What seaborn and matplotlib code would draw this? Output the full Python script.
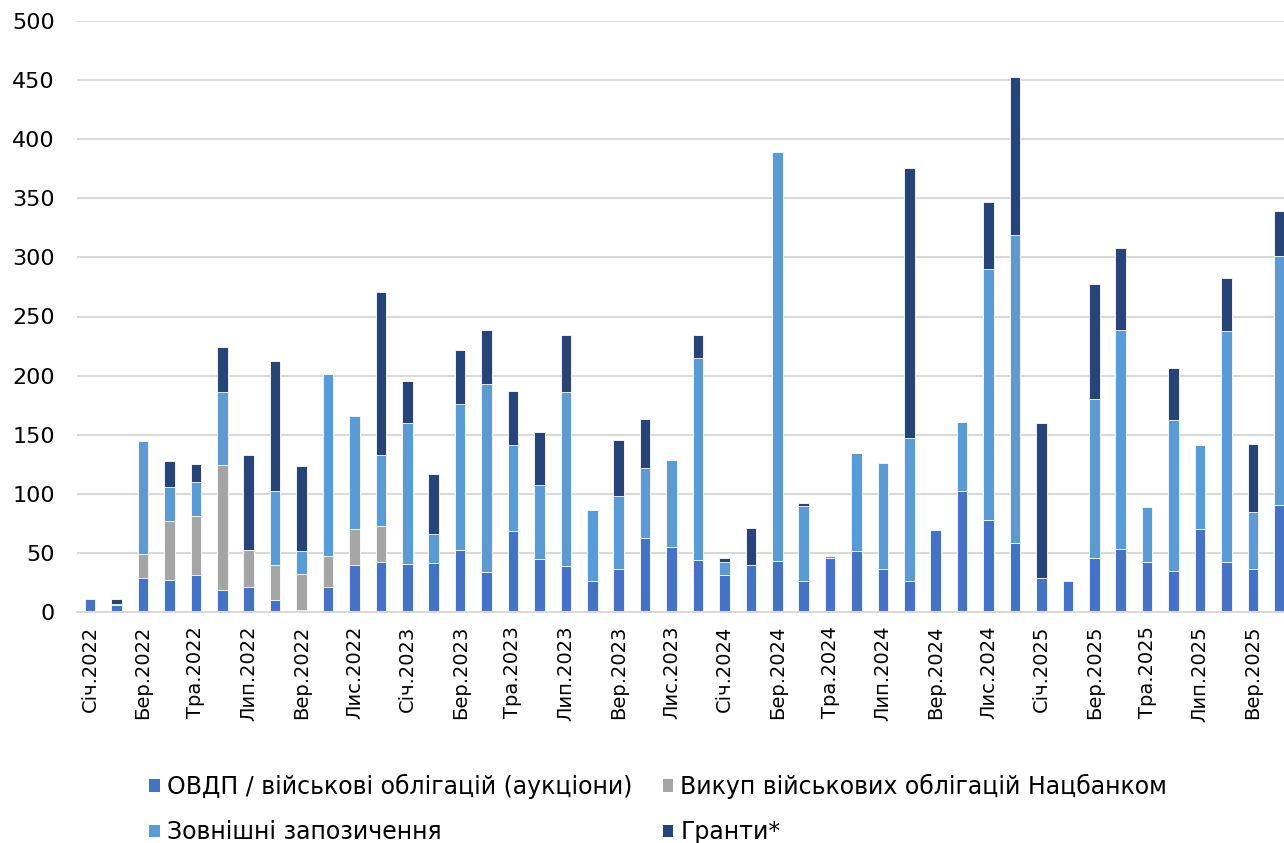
import numpy as np
import pandas as pd
import matplotlib
matplotlib.use("Agg")
import matplotlib.pyplot as plt
from matplotlib.patches import Patch
import seaborn as sns

# Monthly categories, Jan 2022 .. Oct 2025
month_names = ["Січ", "Лют", "Бер", "Кві", "Тра", "Чер",
               "Лип", "Сер", "Вер", "Жов", "Лис", "Гру"]
years = [2022, 2023, 2024, 2025]
categories = [f"{m}.{y}" for y in years for m in month_names][:46]

# Financing sources, bn UAH per month
ovdp = [11, 5.5, 29, 27, 31, 18.5, 21.5, 10, 2, 21.5, 40, 42.5,
        40.5, 41.5, 52.5, 33.5, 68.5, 45, 38.5, 26, 36, 63, 55, 44,
        31, 39.5, 43.5, 26, 45.5, 52, 36, 26.5, 69.5, 102.5, 78, 58,
        29, 26, 46, 53, 42, 35, 70, 42.5, 36.5, 90.5]
nbu_buyback = [0, 0, 20, 50, 50.5, 105.5, 31, 30, 30, 25.5, 30, 30,
               0, 0, 0, 0, 0, 0, 0, 0, 0, 0, 0, 0,
               0, 0, 0, 0, 0, 0, 0, 0, 0, 0, 0, 0,
               0, 0, 0, 0, 0, 0, 0, 0, 0, 0]
external = [0, 1.5, 96, 29, 28.5, 62, 0, 62.5, 19.5, 154.5, 96, 60,
            119, 24.5, 123.5, 159.5, 73, 62.5, 148, 60.5, 62, 58.5, 74, 170.5,
            11.5, 0, 345.5, 63.5, 1.5, 82.5, 90, 121, 0, 58, 212, 261,
            0, 0, 134, 186, 47, 127.5, 71, 195.5, 48, 210.5]
grants = [0, 4, 0, 22, 15.5, 38.5, 80.5, 109.5, 72, 0, 0, 138,
          36, 51, 46, 45.5, 45.5, 44.5, 47.5, 0, 47.5, 42, 0, 20,
          3.5, 31.5, 0, 2.5, 0, 0, 0, 228, 0, 0, 56.5, 134,
          131, 0, 97.5, 69, 0, 44, 0, 44.5, 57.5, 38.5]

series_names = ["ОВДП / військові облігацій (аукціони)",
                "Викуп військових облігацій Нацбанком",
                "Зовнішні запозичення",
                "Гранти*"]
colors = ["#4472C4", "#A5A5A5", "#5B9BD5", "#264478"]

df = pd.DataFrame({"month": categories, "s0": ovdp, "s1": nbu_buyback,
                   "s2": external, "s3": grants})
# cumulative tops for the stacked layers
df["c0"] = df["s0"]
df["c1"] = df["c0"] + df["s1"]
df["c2"] = df["c1"] + df["s2"]
df["c3"] = df["c2"] + df["s3"]

sns.set_theme(style="white")
plt.rcParams["font.family"] = ["DejaVu Sans"]
plt.rcParams["text.color"] = "black"

fig = plt.figure(figsize=(12.84, 8.43), dpi=100)
ax = fig.add_axes([77 / 1284, 1 - 612 / 843, (1292.5 - 77) / 1284, (612 - 21) / 843])

# draw from the tallest cumulative layer down so each segment shows its own colour
for i in [3, 2, 1, 0]:
    sns.barplot(data=df, x="month", y=f"c{i}", order=categories, color=colors[i],
                width=0.4, edgecolor="white", linewidth=0.6, saturation=1,
                ax=ax, zorder=3)

ax.set_ylim(0, 500)
ax.set_xlim(-0.5, len(categories) - 0.5)
ax.set_yticks(np.arange(0, 501, 50))
ax.yaxis.grid(True, color="#D9D9D9", linewidth=1.5, zorder=0)
ax.set_axisbelow(True)
ax.set_xlabel("")
ax.set_ylabel("")

for side in ["left", "right", "top"]:
    ax.spines[side].set_visible(False)
ax.spines["bottom"].set_color("#D9D9D9")
ax.spines["bottom"].set_linewidth(1.5)
ax.spines["bottom"].set_zorder(4)

# labels every second month, tick marks on category boundaries
label_pos = np.arange(0, len(categories), 2)
ax.set_xticks(label_pos)
ax.set_xticklabels([categories[i] for i in label_pos], rotation=90,
                   fontsize=14, color="#000000")
ax.tick_params(axis="x", which="major", length=0, pad=10)
ax.set_xticks(np.arange(-0.5, len(categories), 2), minor=True)
ax.tick_params(axis="x", which="minor", length=8, width=1.5, color="#D9D9D9",
               direction="out")
ax.tick_params(axis="y", length=0, pad=16, labelsize=16, labelcolor="#000000")

handles = [Patch(facecolor=c, edgecolor="none") for c in colors]
order = [0, 2, 1, 3]
fig.legend([handles[k] for k in order], [series_names[k] for k in order],
           loc="upper left", bbox_to_anchor=(149 / 1284, 1 - 774 / 843),
           ncol=2, frameon=False, fontsize=17, handlelength=0.45,
           handleheight=0.45, handletextpad=0.3, columnspacing=1.3,
           labelspacing=0.9, borderaxespad=0, borderpad=0, labelcolor="black")

fig.savefig("out.png", dpi=100)
